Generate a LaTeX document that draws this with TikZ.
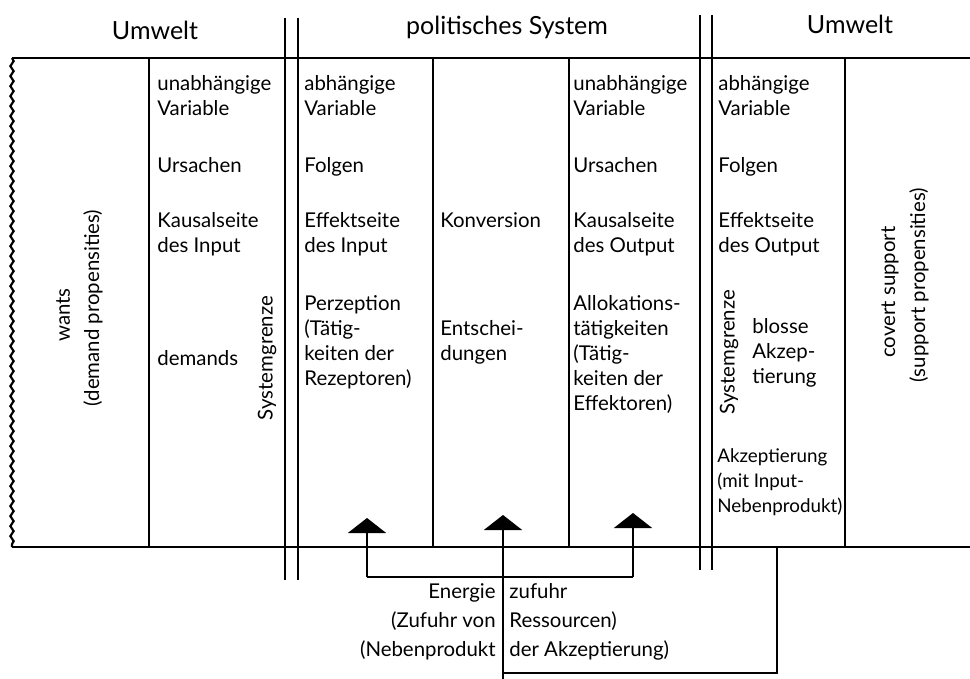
\documentclass[tikz,border=0pt]{standalone}
\usepackage{fontspec}
\setmainfont{Lato}
\usetikzlibrary{arrows.meta,decorations.pathmorphing}

\begin{document}
\begin{tikzpicture}[x=0.5pt,y=-0.5pt,
  every node/.style={inner sep=0pt, font=\fontsize{10.2}{12.5}\selectfont},
  hdr/.style={font=\fontsize{12.5}{14}\selectfont},
  cell/.style={anchor=north west, align=left},
  vlabel/.style={rotate=90},
  note/.style={font=\fontsize{10.2}{14.5}\selectfont},
  frame/.style={line width=1.1pt},
  bound/.style={line width=1.3pt},
  feed/.style={line width=1pt},
  arr/.style={feed, -{Triangle[width=19pt,length=7.5pt]}}]
\useasboundingbox (0,0) rectangle (970,679);
% frame and columns
\draw[frame] (12,58) -- (970,58);
\draw[frame] (12,547) -- (970,547);
\draw[frame, decorate, decoration={snake, amplitude=0.8pt, segment length=5pt}] (12,58) -- (12,547);
\foreach \x in {149,433,569,845}
  \draw[frame] (\x,58) -- (\x,547);
% system boundaries
\foreach \x in {285,298}
  \draw[bound] (\x,18) -- (\x,580);
\foreach \x in {700,712}
  \draw[bound] (\x,15) -- (\x,570);
% headers
\node[hdr] (hUL) at (155,30) {Umwelt};
\node[hdr] (hPS) at (507,27) {politisches System};
\node[hdr] (hUR) at (850,24) {Umwelt};
% left environment
\node[vlabel] (wants) at (63,315) {wants};
\node[vlabel] (wantsP) at (93,308) {(demand propensities)};
% input side
\node[cell] (u1) at (157,75) {unabhängige\\Variable};
\node[cell] (u2) at (157,157) {Ursachen};
\node[cell] (u3) at (157,212) {Kausalseite\\des Input};
\node[cell] (u4) at (157,350) {demands};
\node[vlabel] (sgL) at (267,358) {Systemgrenze};
\node[cell] (a1) at (304,75) {abhängige\\Variable};
\node[cell] (a2) at (304,157) {Folgen};
\node[cell] (a3) at (304,212) {Effektseite\\des Input};
\node[cell] (a4) at (304,295) {Perzeption\\(Tätig-\\keiten der\\Rezeptoren)};
% conversion
\node[cell] (k1) at (440,212) {Konversion};
\node[cell] (k2) at (440,320) {Entschei-\\dungen};
% output side
\node[cell] (o1) at (573,75) {unabhängige\\Variable};
\node[cell] (o2) at (573,157) {Ursachen};
\node[cell] (o3) at (573,212) {Kausalseite\\des Output};
\node[cell] (o4) at (573,295) {Allokations-\\tätigkeiten\\(Tätig-\\keiten der\\Effektoren)};
\node[cell] (f1) at (718,75) {abhängige\\Variable};
\node[cell] (f2) at (718,157) {Folgen};
\node[cell] (f3) at (718,212) {Effektseite\\des Output};
\node[vlabel] (sgR) at (729,352) {Systemgrenze};
\node[cell] (f4) at (752,318) {blosse\\Akzep-\\tierung};
\node[cell, font=\fontsize{9.4}{12.5}\selectfont] (f5) at (717,448) {Akzeptierung\\(mit Input-\\Nebenprodukt)};
% right environment
\node[vlabel] (covert) at (890,292) {covert support};
\node[vlabel] (covertP) at (919,285) {(support propensities)};
% energy supply
\node[note, anchor=north east, align=right] (enL) at (496,583) {Energie\\(Zufuhr von\\(Nebenprodukt};
\node[note, anchor=north west, align=left] (enR) at (509,583) {zufuhr\\Ressourcen)\\der Akzeptierung)};
\coordinate (tipP) at (367,518);
\coordinate (tipE) at (503,515);
\coordinate (tipA) at (633,513);
\coordinate (brP) at (367,577);
\coordinate (brA) at (633,577);
\coordinate (srcB) at (777,547);
\coordinate (srcC) at (777,673);
\coordinate (srcE) at (503,673);
\coordinate (endE) at (503,679);
\draw[arr] (brP) -- (tipP);
\draw[arr] (brA) -- (tipA);
\draw[feed] (brP) -- (brA);
\draw[arr] (endE) -- (tipE);
\draw[feed] (srcB) -- (srcC) -- (srcE);
\end{tikzpicture}
\end{document}
